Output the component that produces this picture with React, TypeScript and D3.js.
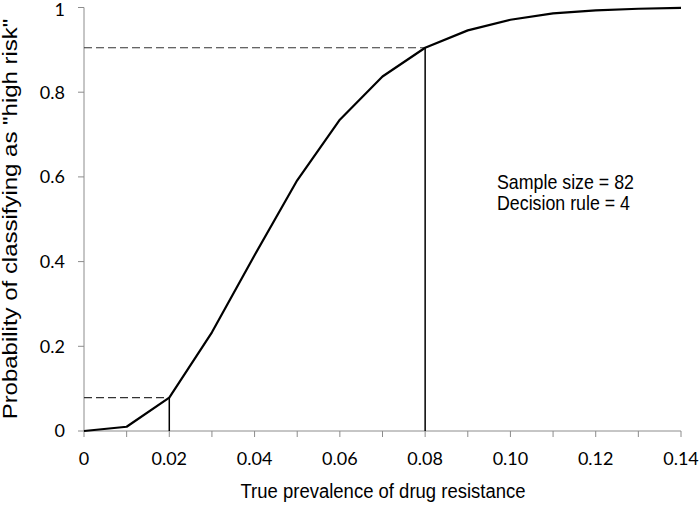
import React from "react";
import * as d3 from "d3";

const prevalence = [0, 0.01, 0.02, 0.03, 0.04, 0.05, 0.06, 0.07, 0.08, 0.09, 0.1, 0.11, 0.12, 0.13, 0.14];
const probability = [0, 0.01, 0.079, 0.233, 0.415, 0.592, 0.735, 0.837, 0.905, 0.946, 0.971, 0.986, 0.993, 0.997, 0.999];
const xTickValues = [0, 0.01, 0.02, 0.03, 0.04, 0.05, 0.06, 0.07, 0.08, 0.09, 0.1, 0.11, 0.12, 0.13, 0.14];
const xLabelValues = [0, 0.02, 0.04, 0.06, 0.08, 0.1, 0.12, 0.14];
const xLabels = ["0", "0.02", "0.04", "0.06", "0.08", "0.10", "0.12", "0.14"];
const yTickValues = [0, 0.2, 0.4, 0.6, 0.8, 1];
const yLabels = ["0", "0.2", "0.4", "0.6", "0.8", "1"];
const markerIndices = [2, 8];
const annotation = ["Sample size = 82", "Decision rule = 4"];

export default function App() {
  const W = 700, H = 507;
  const x = d3.scaleLinear().domain([0, 0.14]).range([84, 681]);
  const y = d3.scaleLinear().domain([0, 1]).range([431, 7.5]);
  const line = d3.line<number>().x((_, i) => x(prevalence[i])).y((d) => y(d));
  const axisColor = "#8c8c8c";
  const tickFont = "Lato, 'Open Sans', sans-serif";
  const titleFont = "'Liberation Sans', Arial, sans-serif";
  return (
    <svg width={W} height={H} style={{ position: "absolute", left: 0, top: 0, background: "#fff" }}>
      {/* axes */}
      <line x1={x(0)} x2={x(0)} y1={y(0)} y2={y(1)} stroke={axisColor} strokeWidth={1} />
      <line x1={x(0)} x2={x(0.14)} y1={y(0)} y2={y(0)} stroke={axisColor} strokeWidth={1} />
      {yTickValues.map((v, i) => (
        <g key={"y" + i}>
          <line x1={x(0) - 6} x2={x(0)} y1={y(v)} y2={y(v)} stroke={axisColor} strokeWidth={1} />
          <text x={65} y={Math.max(y(v), 10)} dy="0.36em" textAnchor="end" fontFamily={tickFont} fontSize={18} fill="#000">
            {yLabels[i]}
          </text>
        </g>
      ))}
      {xTickValues.map((v, i) => (
        <line key={"xt" + i} x1={x(v)} x2={x(v)} y1={y(0)} y2={y(0) + 6} stroke={axisColor} strokeWidth={1} />
      ))}
      {xLabelValues.map((v, i) => (
        <text key={"xl" + i} x={x(v)} y={465} textAnchor="middle" fontFamily={tickFont} fontSize={18} fill="#000">
          {xLabels[i]}
        </text>
      ))}
      {/* reference lines */}
      {markerIndices.map((idx) => (
        <g key={"m" + idx}>
          <line x1={x(0)} x2={x(prevalence[idx])} y1={y(probability[idx])} y2={y(probability[idx])} stroke="#333" strokeWidth={1.2} strokeDasharray="8,4" />
          <line x1={x(prevalence[idx])} x2={x(prevalence[idx])} y1={y(probability[idx])} y2={y(0)} stroke="#000" strokeWidth={1.5} />
        </g>
      ))}
      {/* curve */}
      <path d={line(probability) || ""} fill="none" stroke="#000" strokeWidth={2.2} strokeLinejoin="round" />
      {/* annotation */}
      {annotation.map((t, i) => (
        <text key={"a" + i} transform={`translate(497,${189 + i * 21}) scale(1,1.1)`} fontFamily={titleFont} fontSize={17.8} fill="#000">
          {t}
        </text>
      ))}
      {/* axis titles */}
      <text transform="translate(383,498) scale(1,1.1)" textAnchor="middle" fontFamily={titleFont} fontSize={18.5} fill="#000">
        True prevalence of drug resistance
      </text>
      <text transform="translate(17,219) rotate(-90) scale(1.23,1)" textAnchor="middle" fontFamily={titleFont} fontSize={19.5} fill="#000">
        Probability of classifying as "high risk"
      </text>
    </svg>
  );
}
